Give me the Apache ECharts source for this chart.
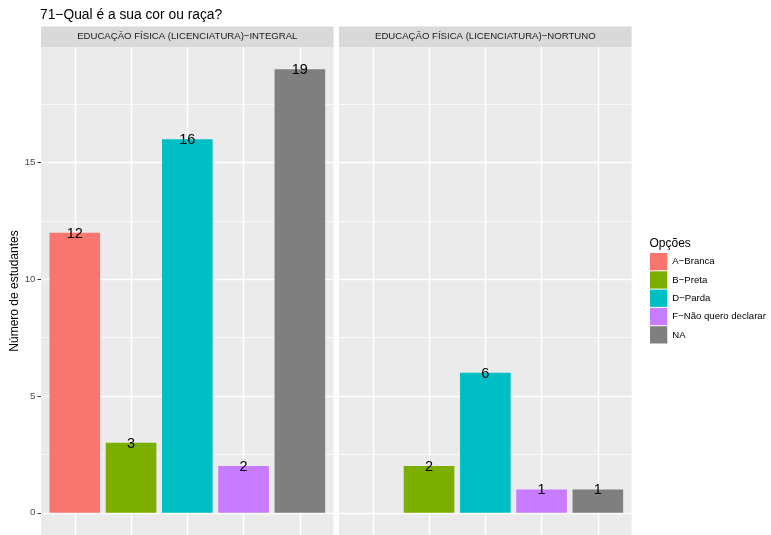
<!DOCTYPE html>
<html><head><meta charset="utf-8">
<script src="https://cdn.jsdelivr.net/npm/echarts@6/dist/echarts.min.js"></script>
<style>html,body{margin:0;padding:0;background:#fff}#c{width:771px;height:535px}</style>
</head><body><div id="c"></div>
<script>
// ---- data ----
const chartTitle = '71−Qual é a sua cor ou raça?';
const panelNames = ['EDUCAÇÃO FÍSICA (LICENCIATURA)−INTEGRAL', 'EDUCAÇÃO FÍSICA (LICENCIATURA)−NORTUNO'];
const categories = ['A−Branca', 'B−Preta', 'D−Parda', 'F−Não quero declarar', 'NA'];
const integralValues = [12, 3, 16, 2, 19];
const noturnoValues = [null, 2, 6, 1, 1];
const yTicks = [0, 5, 10, 15];
const yMinorTicks = [2.5, 7.5, 12.5, 17.5];
const yAxisTitle = 'Número de estudantes';
const legendTitle = 'Opções';

// ---- styles / layout ----
const colors = ['#F8766D', '#7CAE00', '#00BFC4', '#C77CFF', '#7F7F7F'];
const FONT = '"Liberation Sans", Arial, Helvetica, sans-serif';
const panelLefts = [41, 339];
const panelWidth = 292.6;
const panelTop = 47;
const panelHeight = 489;
const stripTop = 26.5;
const stripH = 20.5;
const yMin = -0.95, yMax = 19.95;
const xMin = 0.4, xMax = 5.6;
const barW = panelWidth / (xMax - xMin) * 0.9;
const panelValues = [integralValues, noturnoValues];

const grids = panelLefts.map(l => ({left: l, top: panelTop, width: panelWidth, height: panelHeight,
  show: true, backgroundColor: '#EBEBEB', borderWidth: 0, containLabel: false}));

const xAxes = panelLefts.map((l, i) => ({
  type: 'value', gridIndex: i, min: xMin, max: xMax,
  axisLine: {show: false},
  axisTick: {show: false, customValues: categories.map((c, k) => k + 1)},
  axisLabel: {show: false, customValues: categories.map((c, k) => k + 1)},
  splitLine: {show: true, lineStyle: {color: '#FFFFFF', width: 1.4}}
}));

const yAxes = [];
panelLefts.forEach((l, i) => {
  yAxes.push({
    type: 'value', gridIndex: i, min: yMin, max: yMax, position: 'left',
    axisLine: {show: false},
    axisTick: {show: i === 0, length: 3.5, lineStyle: {color: '#333333', width: 1}, customValues: yTicks},
    axisLabel: {show: i === 0, customValues: yTicks, fontSize: 9.7, color: '#4D4D4D', fontFamily: FONT, margin: 5.5},
    splitLine: {show: true, lineStyle: {color: '#FFFFFF', width: 1.4}},
    name: i === 0 ? yAxisTitle : '', nameLocation: 'middle', nameGap: 17, nameRotate: 90,
    nameTextStyle: {fontSize: 12, color: '#000', fontFamily: FONT}
  });
});
panelLefts.forEach((l, i) => {
  yAxes.push({
    type: 'value', gridIndex: i, min: yMin, max: yMax, position: 'left',
    axisLine: {show: false},
    axisTick: {show: false, customValues: yMinorTicks},
    axisLabel: {show: false, customValues: yMinorTicks},
    splitLine: {show: true, lineStyle: {color: '#FFFFFF', width: 0.7}}
  });
});

const series = [];
panelValues.forEach((vals, p) => {
  categories.forEach((c, k) => {
    series.push({
      type: 'bar', name: c, xAxisIndex: p, yAxisIndex: p, stack: 'panel' + p,
      barWidth: barW, z: 3,
      itemStyle: {color: colors[k]},
      label: {show: true, position: 'top', distance: -8.5, fontSize: 14.5, color: '#000', fontFamily: FONT},
      data: vals[k] == null ? [] : [[k + 1, vals[k]]]
    });
  });
});

const graphics = [];
panelLefts.forEach((l, i) => {
  graphics.push({type: 'rect', shape: {x: l, y: stripTop, width: panelWidth, height: stripH},
    style: {fill: '#D9D9D9'}, silent: true});
  graphics.push({type: 'text', x: l + panelWidth / 2, y: stripTop + stripH / 2,
    style: {text: panelNames[i], fill: '#1A1A1A', font: '9.6px ' + FONT, align: 'center', verticalAlign: 'middle'}});
});
graphics.push({type: 'text', x: 649.5, y: 243.5, style: {text: legendTitle, fill: '#000', font: '12px ' + FONT, verticalAlign: 'middle'}});

const chart = echarts.init(document.getElementById('c'), null, {renderer: 'canvas'});
chart.setOption({
  animation: false,
  textStyle: {fontFamily: FONT},
  title: {text: chartTitle, left: 40, top: 8, padding: 0, textStyle: {fontSize: 13.8, fontWeight: 'normal', color: '#000', fontFamily: FONT}},
  grid: grids, xAxis: xAxes, yAxis: yAxes, series: series,
  legend: {data: categories, orient: 'vertical', left: 650, top: 253, padding: 0,
    itemWidth: 17.3, itemHeight: 17.3, itemGap: 1, icon: 'rect', selectedMode: false,
    textStyle: {fontSize: 9.6, color: '#000', fontFamily: FONT}},
  graphic: graphics
});
</script></body></html>
